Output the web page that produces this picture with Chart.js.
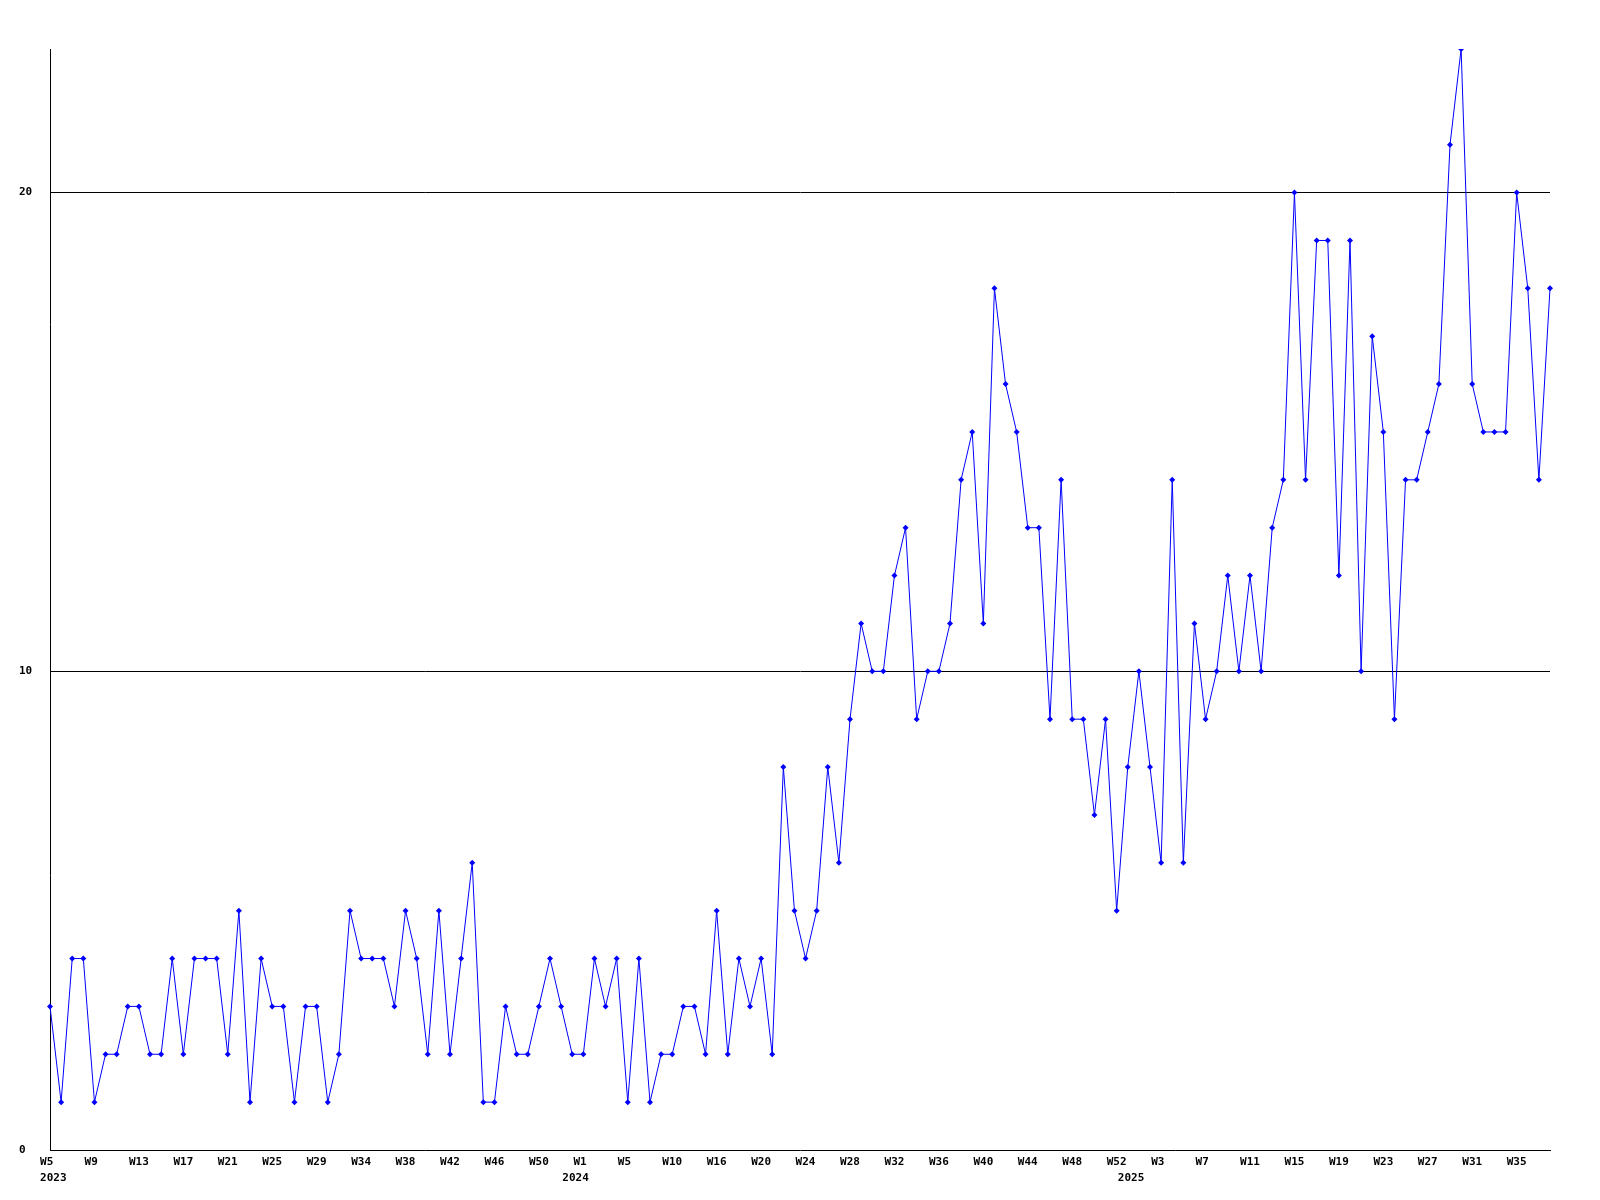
<!DOCTYPE html>
<html>
<head>
<meta charset="utf-8">
<script src="https://cdn.jsdelivr.net/npm/chart.js@4/dist/chart.umd.min.js"></script>
<style>
  html, body { margin: 0; padding: 0; background: #fff; }
  canvas { display: block; }
</style>
</head>
<body>
<canvas id="weekChart" width="1600" height="1200"></canvas>
<script>
// weekly counts
const counts = [
  3, 1, 4, 4, 1, 2, 2, 3, 3, 2,
  2, 4, 2, 4, 4, 4, 2, 5, 1, 4,
  3, 3, 1, 3, 3, 1, 2, 5, 4, 4,
  4, 3, 5, 4, 2, 5, 2, 4, 6, 1,
  1, 3, 2, 2, 3, 4, 3, 2, 2, 4,
  3, 4, 1, 4, 1, 2, 2, 3, 3, 2,
  5, 2, 4, 3, 4, 2, 8, 5, 4, 5,
  8, 6, 9, 11, 10, 10, 12, 13, 9, 10,
  10, 11, 14, 15, 11, 18, 16, 15, 13, 13,
  9, 14, 9, 9, 7, 9, 5, 8, 10, 8,
  6, 14, 6, 11, 9, 10, 12, 10, 12, 10,
  13, 14, 20, 14, 19, 19, 12, 19, 10, 17,
  15, 9, 14, 14, 15, 16, 21, 23, 16, 15,
  15, 15, 20, 18, 14, 18
];

// one week label every 4th point
const tickText = ['W5', 'W9', 'W13', 'W17', 'W21', 'W25', 'W29', 'W34', 'W38', 'W42', 'W46', 'W50',
  'W1', 'W5', 'W10', 'W16', 'W20', 'W24', 'W28', 'W32', 'W36', 'W40', 'W44', 'W48', 'W52',
  'W3', 'W7', 'W11', 'W15', 'W19', 'W23', 'W27', 'W31', 'W35'];
const tickEvery = 4;

const yearText = ['2023', '2024', '2025'];
const yearIndex = [0, 47, 97];

const yMax = 23;
const yStep = 10;

// labels are left-anchored in the original, so pad them for centred drawing
const categories = counts.map((_, i) => {
  const w = (i % tickEvery === 0 && tickText[i / tickEvery]) ? tickText[i / tickEvery].padEnd(3) : '';
  const y = yearIndex.indexOf(i);
  return y >= 0 ? [w, ' ' + yearText[y]] : w;
});

const font = { family: '"DejaVu Sans Mono", monospace', size: 11, weight: 'bold' };

new Chart(document.getElementById('weekChart'), {
  type: 'line',
  data: {
    labels: categories,
    datasets: [{
      data: counts,
      borderColor: '#0000ff',
      backgroundColor: '#0000ff',
      borderWidth: 1,
      tension: 0,
      pointStyle: 'rectRot',
      pointRadius: 3,
      pointBorderWidth: 0,
      pointBackgroundColor: '#0000ff'
    }]
  },
  options: {
    responsive: false,
    animation: false,
    layout: { padding: { top: 49, right: 50, left: 19, bottom: 0 } },
    plugins: { legend: { display: false }, tooltip: { enabled: false } },
    scales: {
      x: {
        offset: false,
        grid: { display: false, drawTicks: false },
        border: { display: true, color: '#000', width: 1 },
        ticks: {
          autoSkip: false,
          maxRotation: 0,
          minRotation: 0,
          padding: 4,
          color: '#000',
          font: { ...font, lineHeight: 1.45 }
        },
        afterFit: s => { s.height = 50; }
      },
      y: {
        min: 0,
        max: yMax,
        grid: {
          drawTicks: false,
          color: ctx => (ctx.tick && ctx.tick.value > 0) ? '#000' : 'rgba(0,0,0,0)',
          lineWidth: 1
        },
        border: { display: true, color: '#000', width: 1 },
        ticks: {
          stepSize: yStep,
          crossAlign: 'far',
          padding: 0,
          color: '#000',
          font
        },
        afterBuildTicks: s => { s.ticks = s.ticks.filter(t => t.value % yStep === 0); },
        afterFit: s => { s.width = 31; }
      }
    }
  }
});
</script>
</body>
</html>
